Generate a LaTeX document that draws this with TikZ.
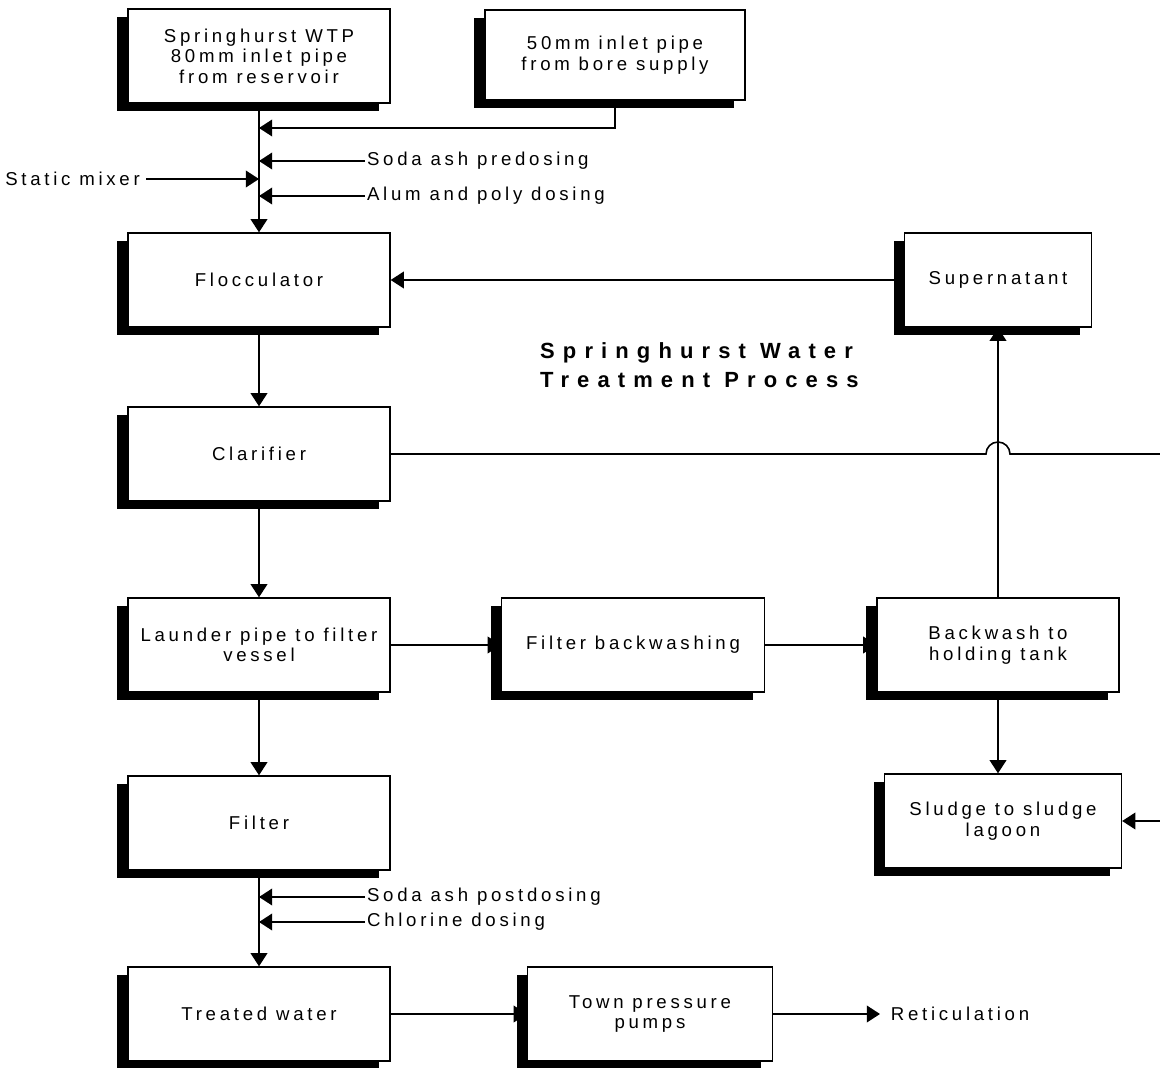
\documentclass[tikz,border=0pt]{standalone}
\usepackage{fontspec}
\setmainfont{Liberation Sans}[LetterSpace=20]
\newfontfamily\titlefont{Liberation Sans}[LetterSpace=37]
\usetikzlibrary{arrows.meta,shadows}

\tikzset{
  unit/.style={draw, line width=0.8pt, fill=white, align=center,
    minimum width=5.24cm, minimum height=1.88cm,
    general shadow={fill=black, shadow xshift=-0.22cm, shadow yshift=-0.16cm}},
  pipe/.style={line width=0.9pt, -{Triangle[length=7.5pt,width=9.5pt]}},
  feed/.style={inner sep=1pt, anchor=west},
}

\begin{document}
\begin{tikzpicture}[x=0.02cm, y=-0.02cm, font=\fontsize{10.6}{11.6}\selectfont]
\useasboundingbox (0,0) rectangle (1160,1068);

% Title
\node[anchor=north west, align=left, font=\titlefont\fontsize{12.5}{16.5}\selectfont\bfseries] (title) at (534,336) {Springhurst Water\\Treatment Process};

% --- Main stream (left column) ---
\node[unit] (wtp) at (259,56) {Springhurst WTP\\80mm inlet pipe\\from reservoir};
\node[unit] (flocc) at (259,280) {Flocculator};
\node[unit] (clar) at (259,454) {Clarifier};
\node[unit] (launder) at (259,645) {Launder pipe to filter\\vessel};
\node[unit] (filter) at (259,823) {Filter};
\node[unit] (treated) at (259,1014) {Treated water};

% --- Other units ---
\node[unit, minimum width=5.2cm, minimum height=1.8cm] (bore) at (615,55) {50mm inlet pipe\\from bore supply};
\node[unit, minimum width=3.74cm] (super) at (998,280) {Supernatant};
\node[unit, minimum width=5.26cm] (fbw) at (633,645) {Filter backwashing};
\node[unit, minimum width=4.84cm] (holding) at (998,645) {Backwash to\\holding tank};
\node[unit, minimum width=4.74cm] (sludge) at (1003,821) {Sludge to sludge\\lagoon};
\node[unit, minimum width=4.9cm] (pumps) at (650,1014) {Town pressure\\pumps};
\node[feed, inner sep=6pt] (retic) at (880,1014) {Reticulation};

% --- Dosing points ---
\node[feed] (sodapre) at (365,161) {Soda ash predosing};
\node[feed] (alum) at (365,196) {Alum and poly dosing};
\node[anchor=east] (mixer) at (146,179) {Static mixer};
\node[feed] (sodapost) at (365,897) {Soda ash postdosing};
\node[feed] (chlor) at (365,922) {Chlorine dosing};

% Connectors
\draw[pipe] (wtp.south) -- (flocc.north);
\draw[pipe] (bore.south) |- (259,128);
\draw[pipe] (sodapre.west) -- (sodapre.west -| wtp.south);
\draw[pipe] (alum.west) -- (alum.west -| wtp.south);
\draw[pipe] (mixer.east) -- (mixer.east -| wtp.south);
\draw[pipe] (flocc.south) -- (clar.north);
\draw[pipe] (super.west) -- (flocc.east);
\draw[pipe] (clar.south) -- (launder.north);
\draw[pipe] (launder.east) -- (fbw.west);
\draw[pipe] (fbw.east) -- (holding.west);
\draw[pipe] (holding.north) -- (super.south);
\draw[pipe] (holding.south) -- (holding.south |- sludge.north);
\draw[pipe] (launder.south) -- (filter.north);
\draw[pipe] (filter.south) -- (treated.north);
\draw[pipe] (sodapost.west) -- (sodapost.west -| filter.south);
\draw[pipe] (chlor.west) -- (chlor.west -| filter.south);
\draw[pipe] (treated.east) -- (pumps.west);
\draw[pipe] (pumps.east) -- (retic.west);

% Clarifier sludge line, hops over the supernatant return
\draw[pipe] (clar.east) -- (986,454) arc[start angle=180, end angle=0, radius=0.24cm]
  -- (1175,454) |- (sludge.east);

\end{tikzpicture}
\end{document}
